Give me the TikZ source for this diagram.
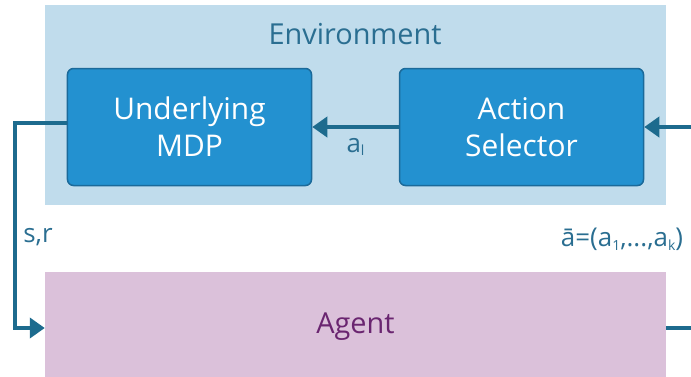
\documentclass[tikz,border=0pt]{standalone}
\usepackage{fontspec}
\setmainfont{Open Sans}
\usepackage{tikz}
\usetikzlibrary{arrows.meta, positioning, calc}
\definecolor{rlEnv}{HTML}{C0DCEC}
\definecolor{rlBox}{HTML}{2391D0}
\definecolor{rlBoxLine}{HTML}{1B6A9A}
\definecolor{rlAgent}{HTML}{DBC1DA}
\definecolor{rlLine}{HTML}{1D6B8E}
\definecolor{rlText}{HTML}{2A6E91}
\definecolor{rlAgentText}{HTML}{6A2570}
\newcommand{\rlsub}[1]{\raisebox{-0.15em}{\fontsize{14}{14}\selectfont #1}}
\tikzset{
  envzone/.style={fill=rlEnv, minimum width=621bp, minimum height=200bp, inner sep=0pt},
  agentzone/.style={fill=rlAgent, minimum width=621bp, minimum height=110bp, inner sep=0pt,
    font=\fontsize{29}{34}\selectfont, text=rlAgentText},
  block/.style={draw=rlBoxLine, line width=1.5bp, fill=rlBox, rounded corners=6bp,
    minimum width=244bp, minimum height=117bp, align=center, text=white,
    font=\fontsize{30}{37}\selectfont},
  title/.style={font=\fontsize{29}{34}\selectfont, text=rlText},
  tag/.style={font=\fontsize{26}{30}\selectfont, text=rlText, inner sep=0pt},
  link/.style={line width=4bp, rlLine},
  sig/.style={link, -{Triangle[length=15bp, width=20bp]}}
}
\begin{document}
\begin{tikzpicture}[x=1bp, y=-1bp]
  \useasboundingbox (0,0) rectangle (691,376);
  \node[envzone] (env) at (355.5,105) {};
  \node[title] (envtitle) at (355,34) {Environment};
  \node[block] (mdp) at (189.5,127) {Underlying\\MDP};
  \node[block] (sel) at (521.5,127) {Action\\Selector};
  \node[agentzone] (agent) at (355.5,327) {Agent};
  % free ends on the right border
  \coordinate (selin) at (691,127);
  \coordinate (agentout) at (691,328);
  \coordinate (mdpout) at ($(mdp.west)+(0,-4)$);
  \draw[sig] (sel) -- (mdp) node[midway, below=9bp, tag] (al) {a\rlsub{l}};
  \draw[sig] (selin) -- (sel);
  \draw[link] (agent.east |- agentout) -- (agentout);
  \draw[sig] (mdpout) -| (15,328) -- (agent.west |- 0,328);
  \node[tag] (sr) at (38,237) {s,r};
  \node[tag] (abar) at (622,239) {ā=(a\rlsub{1},...,a\rlsub{k})};
\end{tikzpicture}
\end{document}
